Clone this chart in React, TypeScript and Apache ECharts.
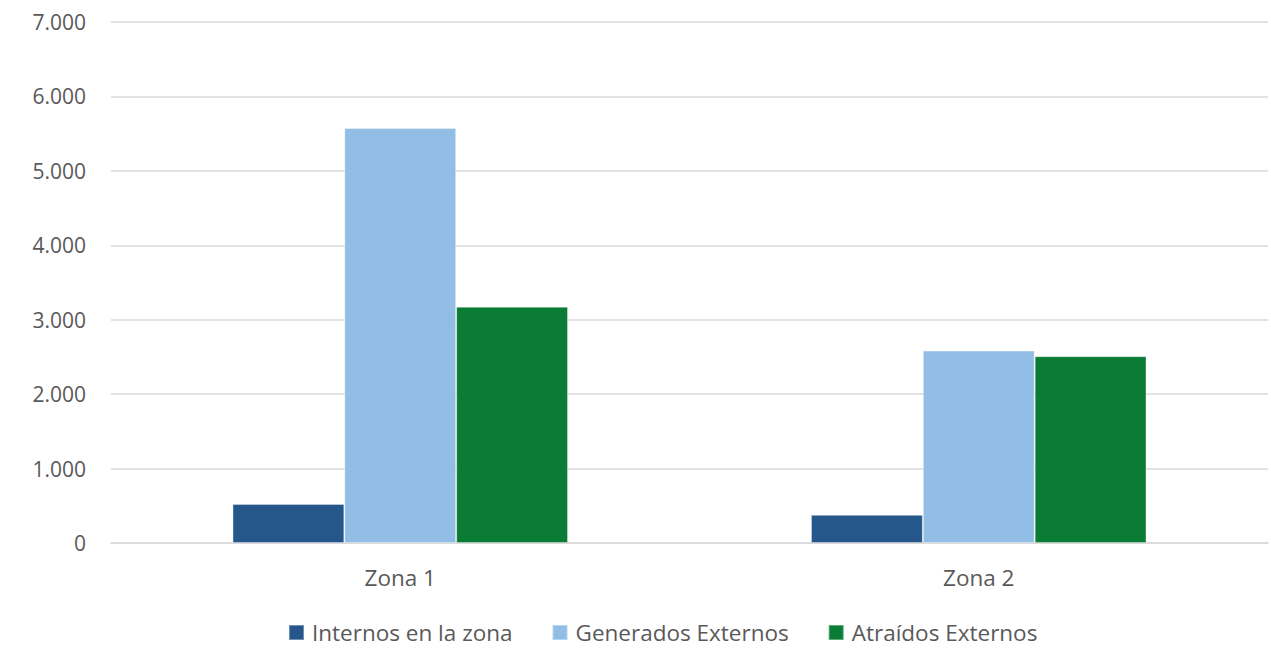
import React, { useEffect, useRef } from "react";
import * as echarts from "echarts";

const categories = ["Zona 1", "Zona 2"];
const seriesNames = ["Internos en la zona", "Generados Externos", "Atraídos Externos"];
const internos = [525, 378];
const generados = [5575, 2585];
const atraidos = [3175, 2510];
const colors = ["#26578A", "#92BEE6", "#0A7C36"];
const yTicks = { min: 0, max: 7000, interval: 1000 };

const fmt = (v: number) => v.toLocaleString("de-DE");

export default function App() {
  const ref = useRef<HTMLDivElement>(null);
  useEffect(() => {
    document.body.style.margin = "0";
    const chart = echarts.init(ref.current!, undefined, { renderer: "svg" });
    const font = "'Open Sans', 'Noto Sans', sans-serif";
    const values = [internos, generados, atraidos];
    chart.setOption({
      animation: false,
      color: colors,
      textStyle: { fontFamily: font },
      grid: { left: 111, right: 3, top: 22, bottom: 105, containLabel: false },
      legend: {
        top: 621,
        left: 288,
        padding: 0,
        itemWidth: 15,
        itemHeight: 15,
        itemGap: 39,
        icon: "rect",
        textStyle: { color: "#595959", fontSize: 22.5, fontFamily: font, padding: [0, 0, 0, 3] },
        data: seriesNames,
      },
      xAxis: {
        type: "category",
        data: categories,
        axisLine: { lineStyle: { color: "#d9d9d9", width: 1.5 } },
        axisTick: { show: false },
        axisLabel: { color: "#595959", fontSize: 22.5, margin: 23, fontFamily: font },
      },
      yAxis: {
        type: "value",
        min: yTicks.min,
        max: yTicks.max,
        interval: yTicks.interval,
        axisLine: { show: false },
        axisTick: { show: false },
        splitLine: { lineStyle: { color: "#d9d9d9", width: 1.5 } },
        axisLabel: { color: "#595959", fontSize: 21, margin: 25, fontFamily: font, formatter: fmt },
      },
      series: seriesNames.map((name, i) => ({
        name,
        type: "bar",
        data: values[i],
        barGap: "0%",
        barCategoryGap: "42%",
        itemStyle: { color: colors[i], borderColor: "rgba(255,255,255,0.35)", borderWidth: 1 },
      })),
    });
    return () => chart.dispose();
  }, []);
  return <div ref={ref} style={{ width: 1271, height: 648, position: "absolute", left: 0, top: 0 }} />;
}
